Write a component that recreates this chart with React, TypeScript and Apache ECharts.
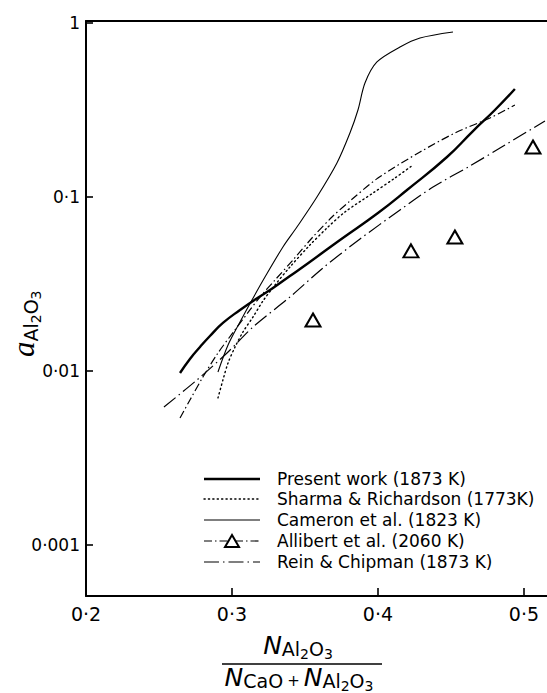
import React, { useEffect, useRef } from "react";
import * as echarts from "echarts";

// ---- data (x = N_Al2O3/(N_CaO+N_Al2O3), y = a_Al2O3) ----
const presentWork: [number, number][] = [
  [0.2644, 0.00974], [0.2712, 0.01173], [0.2781, 0.01374], [0.2849, 0.01589],
  [0.2938, 0.01888], [0.3055, 0.02242], [0.3164, 0.02593], [0.3281, 0.03],
  [0.3397, 0.03515], [0.3514, 0.04121], [0.374, 0.0566], [0.4, 0.0809],
  [0.4199, 0.1097], [0.4473, 0.1698], [0.4651, 0.2394], [0.4801, 0.3162],
  [0.4938, 0.4176],
];
const sharmaRichardson: [number, number][] = [
  [0.2904, 0.007], [0.2938, 0.00888], [0.2973, 0.01112], [0.3021, 0.01373],
  [0.3075, 0.01675], [0.3144, 0.02043], [0.3212, 0.02525], [0.3295, 0.03122],
  [0.3397, 0.0396], [0.3534, 0.05297], [0.3651, 0.06634], [0.3774, 0.082],
  [0.3966, 0.1054], [0.4116, 0.1285], [0.424, 0.1527],
];
const cameron: [number, number][] = [
  [0.2904, 0.00987], [0.2973, 0.0141], [0.3055, 0.01913], [0.3137, 0.02559],
  [0.3226, 0.03468], [0.3349, 0.0516], [0.3445, 0.0672], [0.3582, 0.1],
  [0.3719, 0.1568], [0.3808, 0.2332], [0.3863, 0.3162], [0.3911, 0.452],
  [0.3993, 0.597], [0.4151, 0.7278], [0.4288, 0.8199], [0.4514, 0.8878],
];
const allibertCurve: [number, number][] = [
  [0.2644, 0.00537], [0.2712, 0.00681], [0.2801, 0.00924], [0.2904, 0.01269],
  [0.3, 0.01632], [0.3123, 0.02242], [0.3192, 0.02662], [0.3295, 0.03334],
  [0.3418, 0.04345], [0.3548, 0.05812], [0.3685, 0.0767], [0.3808, 0.0948],
  [0.4, 0.1285], [0.4288, 0.1814], [0.4541, 0.2363], [0.4767, 0.2844],
  [0.4938, 0.3379],
];
const allibertPoints: [number, number][] = [
  [0.3555, 0.01964], [0.4226, 0.049], [0.4527, 0.0589], [0.5062, 0.1938],
];
const reinChipman: [number, number][] = [
  [0.2534, 0.00621], [0.276, 0.00888], [0.2966, 0.01269], [0.3144, 0.0179],
  [0.3397, 0.02662], [0.3623, 0.03908], [0.3877, 0.05735], [0.4151, 0.0842],
  [0.4377, 0.1141], [0.463, 0.1507], [0.4836, 0.1912], [0.5144, 0.2733],
];

const seriesNames = [
  "Present work (1873 K)",
  "Sharma & Richardson (1773K)",
  "Cameron et al. (1823 K)",
  "Allibert et al. (2060 K)",
  "Rein & Chipman (1873 K)",
];
const xTickValues = [0.2, 0.3, 0.4, 0.5];
const yTickLabels: Record<string, string> = { "0": "1", "-1": "0·1", "-2": "0·01", "-3": "0·001" };

const FONT = "DejaVu Sans";

export default function App() {
  const ref = useRef<HTMLDivElement>(null);
  useEffect(() => {
    document.body.style.margin = "0";
    const chart = echarts.init(ref.current!, undefined, { renderer: "svg" });

    const dashes: (number[] | "solid")[] = [
      "solid",
      [1.2, 3.2],
      "solid",
      [8, 3, 1.5, 3],
      [15, 4, 1.5, 4],
    ];
    const widths = [2.4, 1.4, 1.1, 1.2, 1.2];

    const legendRows = [479, 499, 520, 541, 562];
    const legendGraphics: any[] = [];
    seriesNames.forEach((name, i) => {
      const y = legendRows[i];
      legendGraphics.push({
        type: "line",
        shape: { x1: 204, y1: y, x2: 260, y2: y },
        style: {
          stroke: "#000",
          lineWidth: widths[i],
          lineDash: dashes[i] === "solid" ? null : dashes[i],
          lineCap: i === 1 ? "round" : "butt",
        },
      });
      legendGraphics.push({
        type: "text",
        x: 277,
        y,
        style: {
          text: name,
          font: `17px "${FONT}"`,
          fill: "#000",
          verticalAlign: "middle",
          align: "left",
        },
      });
    });
    legendGraphics.push({
      type: "polygon",
      shape: { points: [[232, 535], [225, 547], [239, 547]] },
      style: { fill: "#fff", stroke: "#000", lineWidth: 2 },
      z: 10,
    });

    const subRich = {
      N: { fontFamily: FONT, fontStyle: "italic", fontSize: 25, verticalAlign: "bottom", padding: [0, 0, 3, 0] },
      s: { fontFamily: FONT, fontSize: 19, verticalAlign: "bottom", padding: [0, 0, 3, 0] },
      ss: { fontFamily: FONT, fontSize: 14, verticalAlign: "bottom", padding: [0, 0, 0, 0] },
      plus: { fontFamily: FONT, fontSize: 15, verticalAlign: "bottom", padding: [0, 4, 5, 4] },
      a: { fontFamily: "Liberation Serif", fontStyle: "italic", fontSize: 31, verticalAlign: "bottom", padding: [0, 0, 4, 0] },
    };

    const option: any = {
      animation: false,
      grid: { left: 86, right: 0, top: 21, bottom: 693 - 596, containLabel: false },
      xAxis: [
        {
          type: "value",
          min: 0.2,
          max: 0.5158,
          interval: 0.1,
          axisLine: { show: true, lineStyle: { color: "#000", width: 2 } },
          axisTick: { show: true, inside: true, length: 8, lineStyle: { color: "#000", width: 1.6 } },
          splitLine: { show: false },
          axisLabel: {
            color: "#000",
            fontFamily: FONT,
            fontSize: 19,
            margin: 8,
            showMaxLabel: false,
            formatter: (v: number) => {
              const k = xTickValues.find((t) => Math.abs(t - v) < 1e-6);
              return k === undefined ? "" : "0·" + Math.round(k * 10);
            },
          },
        },
        {
          type: "value",
          position: "top",
          min: 0.2,
          max: 0.5158,
          axisLine: { show: true, lineStyle: { color: "#000", width: 2 } },
          axisTick: { show: false },
          axisLabel: { show: false },
          splitLine: { show: false },
        },
      ],
      yAxis: {
        type: "log",
        logBase: 10,
        min: 0.000509,
        max: 1.027,
        axisLine: { show: true, lineStyle: { color: "#000", width: 2 } },
        axisTick: { show: true, inside: true, length: 7, lineStyle: { color: "#000", width: 1.6 } },
        minorTick: { show: false },
        splitLine: { show: false },
        axisLabel: {
          color: "#000",
          fontFamily: FONT,
          fontSize: 17,
          margin: 6,
          showMinLabel: false,
          formatter: (v: number) => {
            const e = Math.log10(v);
            const r = Math.round(e);
            if (Math.abs(e - r) > 1e-6) return "";
            return yTickLabels[String(r)] ?? "";
          },
        },
      },
      series: [
        {
          name: seriesNames[0], type: "line", data: presentWork, symbol: "none", smooth: 0.5,
          lineStyle: { color: "#000", width: widths[0] },
        },
        {
          name: seriesNames[1], type: "line", data: sharmaRichardson, symbol: "none", smooth: 0.3,
          lineStyle: { color: "#000", width: widths[1], type: dashes[1], cap: "round" },
        },
        {
          name: seriesNames[2], type: "line", data: cameron, symbol: "none", smooth: 0.3,
          lineStyle: { color: "#000", width: widths[2] },
        },
        {
          name: seriesNames[3], type: "line", data: allibertCurve, symbol: "none", smooth: 0.3,
          lineStyle: { color: "#000", width: widths[3], type: dashes[3] },
        },
        {
          name: seriesNames[3], type: "scatter", data: allibertPoints, symbol: "triangle", symbolSize: [15, 13],
          itemStyle: { color: "#fff", borderColor: "#000", borderWidth: 2, opacity: 1 }, z: 5,
        },
        {
          name: seriesNames[4], type: "line", data: reinChipman, symbol: "none", smooth: 0.3,
          lineStyle: { color: "#000", width: widths[4], type: dashes[4] },
        },
      ],
      graphic: [
        {
          type: "text",
          x: 43,
          y: 357,
          rotation: Math.PI / 2,
          style: {
            text: "{a|a}{s|Al}{ss|2}{s|O}{ss|3}",
            rich: subRich,
            align: "left",
            verticalAlign: "bottom",
            fill: "#000",
          },
        },
        {
          type: "text",
          x: 298,
          y: 661,
          style: {
            text: "{N|N}{s|Al}{ss|2}{s|O}{ss|3}",
            rich: subRich,
            align: "center",
            verticalAlign: "bottom",
            fill: "#000",
          },
        },
        {
          type: "line",
          shape: { x1: 222, y1: 664, x2: 382, y2: 664 },
          style: { stroke: "#000", lineWidth: 1.3 },
        },
        {
          type: "text",
          x: 299,
          y: 693,
          style: {
            text: "{N|N}{s|CaO}{plus|+}{N|N}{s|Al}{ss|2}{s|O}{ss|3}",
            rich: subRich,
            align: "center",
            verticalAlign: "bottom",
            fill: "#000",
          },
        },
        ...legendGraphics,
      ],
    };
    chart.setOption(option);
    return () => chart.dispose();
  }, []);
  return <div ref={ref} style={{ width: 547, height: 693 }} />;
}
